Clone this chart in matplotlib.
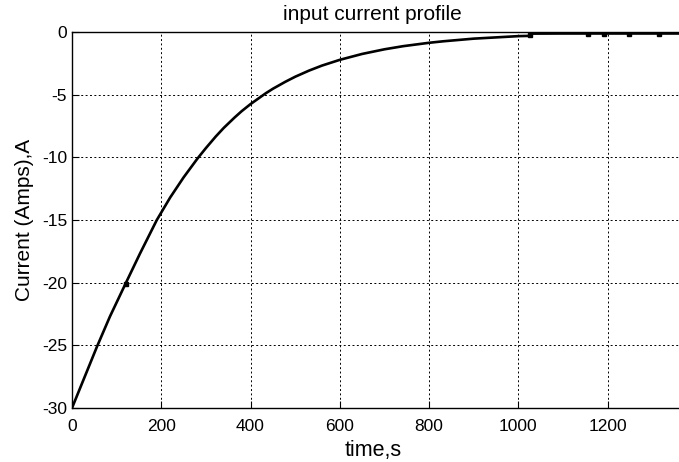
import matplotlib
matplotlib.use("Agg")
import matplotlib.pyplot as plt
import numpy as np

plt.rcParams['font.family'] = ['Liberation Sans', 'DejaVu Sans']
plt.rcParams['axes.unicode_minus'] = False

time_s = [0, 28, 56, 85, 121, 152, 190, 220, 250, 281, 300, 322, 340, 364, 380, 400, 434, 450, 478, 500,
          531, 560, 600, 650, 700, 742, 800, 832, 900, 1000, 1024, 1028, 1100, 1200, 1300, 1375]
current_A = [-30, -27.55, -25.1, -22.7, -20, -17.7, -15, -13.2, -11.6, -10.1, -9.26, -8.34, -7.65, -6.83, -6.32,
             -5.75, -4.89, -4.53, -3.97, -3.57, -3.08, -2.68, -2.22, -1.75, -1.38, -1.13, -0.86, -0.74, -0.53,
             -0.33, -0.31, -0.13, -0.12, -0.12, -0.12, -0.12]
blip_times = [120, 1025, 1157, 1191, 1247, 1316]

xticks = [0, 200, 400, 600, 800, 1000, 1200]
yticks = [-30, -25, -20, -15, -10, -5, 0]

fig = plt.figure(figsize=(6.79, 4.62), dpi=100)
ax = fig.add_axes([72/679, (462-408)/462, (679-72)/679 + 0.01, (408-32)/462])

ax.plot(time_s, current_A, color='black', lw=1.9, solid_joinstyle='round')
ax.plot(blip_times, np.interp(blip_times, time_s, current_A), ls='none',
        marker='s', ms=2.3, color='black')

ax.set_xlim(0, 1375)
ax.set_ylim(-30, 0)
ax.set_xticks(xticks)
ax.set_yticks(yticks)
ax.grid(True, color='black', linestyle=(0, (2, 2.5)), linewidth=0.7)
ax.tick_params(direction='in', length=5, width=0.8, labelsize=12.5, colors='black')
ax.tick_params(axis='x', pad=8)
ax.spines['right'].set_visible(False)
for s in ['left', 'bottom', 'top']:
    ax.spines[s].set_linewidth(1.0)

ax.set_xlabel('time,s', fontsize=15.5, labelpad=2)
ax.xaxis.set_label_coords(0.49, -0.085)
ax.set_ylabel('Current (Amps),A', fontsize=15, labelpad=6)
ax.set_title('input current profile', fontsize=15, pad=9, x=0.49)

fig.savefig('out.png', dpi=100)
